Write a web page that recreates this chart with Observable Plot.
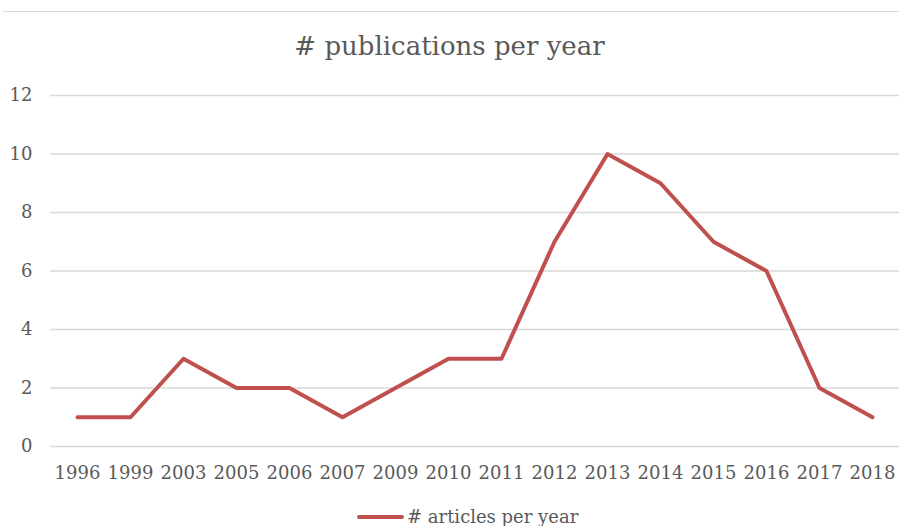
<!DOCTYPE html>
<html><head><meta charset="utf-8">
<script src="https://cdn.jsdelivr.net/npm/d3@7"></script>
<script src="https://cdn.jsdelivr.net/npm/@observablehq/plot@0.6"></script>
<style>
body{margin:0;background:#fff;}
#wrap{position:relative;width:899px;height:526px;overflow:hidden;font-family:"DejaVu Serif",serif;color:#595959;}
#topline{position:absolute;left:3px;right:0;top:11px;height:0;border-top:1px solid #d9d9d9;}
#title{position:absolute;left:0;width:899px;top:31px;text-align:center;font-size:26px;}
#legend{position:absolute;left:357px;top:506px;font-size:18px;white-space:nowrap;display:flex;align-items:center;}
#legend .sw{display:inline-block;width:47px;height:4px;background:#C0504D;border-radius:2px;margin-right:3px;}
#chart{position:absolute;left:0;top:0;}
</style></head>
<body>
<div id="wrap">
<div id="chart"></div>
<div id="topline"></div>
<div id="title"># publications per year</div>
<div id="legend"><span class="sw"></span><span># articles per year</span></div>
</div>
<script>
const years = ["1996","1999","2003","2005","2006","2007","2009","2010","2011","2012","2013","2014","2015","2016","2017","2018"];
const counts = [1,1,3,2,2,1,2,3,3,7,10,9,7,6,2,1];
const yTicks = [0,2,4,6,8,10,12];
const seriesName = "# articles per year";

const data = years.map((y,i)=>({year:y,count:counts[i]}));

const plot = Plot.plot({
  width: 899, height: 526,
  marginTop: 95, marginBottom: 80, marginLeft: 50, marginRight: 0,
  style: {fontFamily: "DejaVu Serif, serif", fontSize: "18px", color: "#595959", background: "transparent"},
  x: {type: "point", domain: years, padding: 0.5, label: null},
  y: {domain: [0,12], ticks: yTicks, label: null},
  marks: [
    Plot.ruleY(yTicks, {stroke: "#d9d9d9", strokeWidth: 1.3}),
    Plot.axisY({ticks: yTicks, tickSize: 0, tickPadding: 18, fontSize: 18, label: null}),
    Plot.axisX({tickSize: 0, tickPadding: 20, fontSize: 18, label: null}),
    Plot.line(data, {x: "year", y: "count", stroke: "#C0504D", strokeWidth: 4, strokeLinejoin: "round", strokeLinecap: "round"})
  ]
});
document.getElementById("chart").appendChild(plot);
</script>
</body></html>
